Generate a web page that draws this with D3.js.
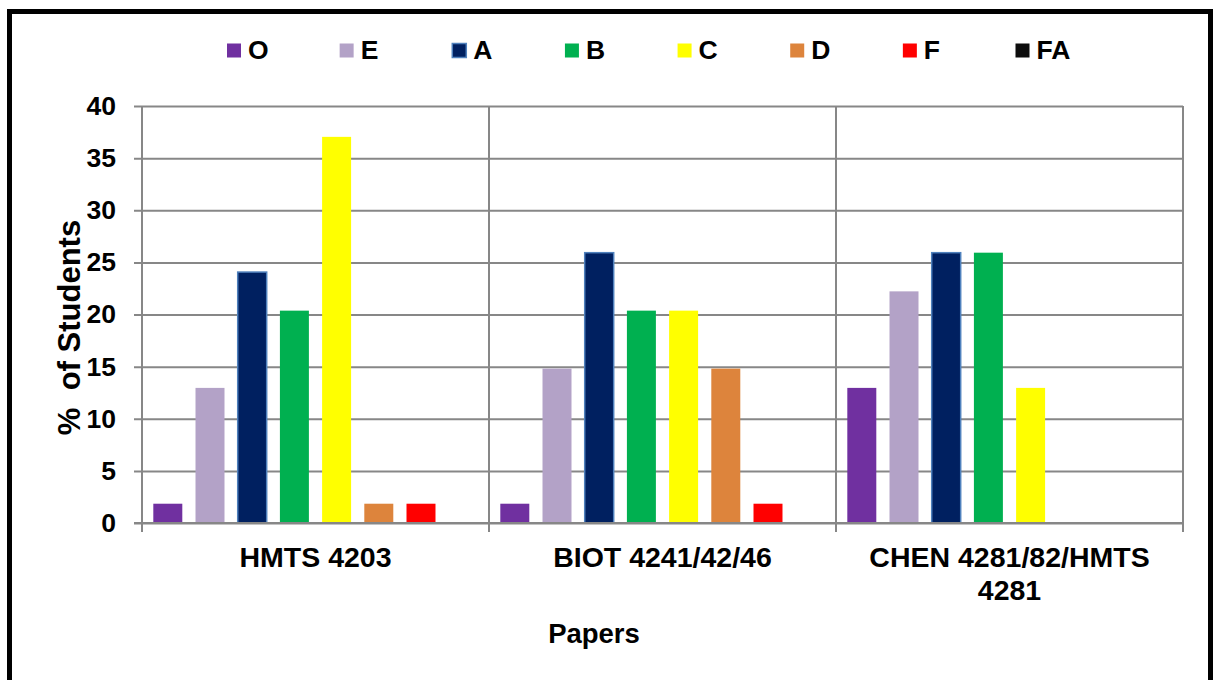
<!DOCTYPE html>
<html>
<head>
<meta charset="utf-8">
<script src="https://cdn.jsdelivr.net/npm/d3@7/dist/d3.min.js"></script>
<style>
  html, body { margin: 0; padding: 0; background: #fff; }
  svg { display: block; font-family: "Liberation Sans", Arial, sans-serif; }
</style>
</head>
<body>
<svg id="chart" width="1213" height="680"></svg>
<script>
// ---- data ----
const categories = ["HMTS 4203", "BIOT 4241/42/46", "CHEN 4281/82/HMTS 4281"];
const seriesNames = ["O", "E", "A", "B", "C", "D", "F", "FA"];
const valuesO  = [1.85, 1.85, 12.96];
const valuesE  = [12.96, 14.81, 22.22];
const valuesA  = [24.07, 25.93, 25.93];
const valuesB  = [20.37, 20.37, 25.93];
const valuesC  = [37.04, 20.37, 12.96];
const valuesD  = [1.85, 14.81, 0];
const valuesF  = [1.85, 1.85, 0];
const valuesFA = [0, 0, 0];
const yTicks = [0, 5, 10, 15, 20, 25, 30, 35, 40];
const colors = ["#7030a0", "#b3a2c7", "#002060", "#00b050", "#ffff00", "#dd843c", "#ff0000", "#0d0d0d"];
const yTitle = "%  of Students";
const xTitle = "Papers";

const seriesValues = [valuesO, valuesE, valuesA, valuesB, valuesC, valuesD, valuesF, valuesFA];

const svg = d3.select("#chart");

// outer border
svg.append("rect")
  .attr("x", 9.5).attr("y", 11.5)
  .attr("width", 1201).attr("height", 720)
  .attr("fill", "none").attr("stroke", "#000").attr("stroke-width", 5);

const plotL = 142, plotR = 1183, plotT = 106, plotB = 523;

const y = d3.scaleLinear().domain([0, 40]).range([plotB, plotT]);
const x0 = d3.scaleBand().domain(categories).range([plotL, plotR]).padding(0);
const x1 = d3.scaleBand().domain(seriesNames).range([0, x0.bandwidth()])
  .paddingInner(0.313).paddingOuter(0.268);

const gridColor = "#878787";

// horizontal gridlines + y labels
const yAxis = d3.axisLeft(y).tickValues(yTicks)
  .tickSize(-(plotR - 134)).tickPadding(18).tickFormat(d3.format("d"));
const gy = svg.append("g").attr("transform", "translate(134,0)").call(yAxis);
gy.select(".domain").remove();
gy.selectAll(".tick line").attr("stroke", gridColor).attr("stroke-width", 2);
gy.selectAll(".tick text")
  .attr("fill", "#000").attr("font-size", 26.5).attr("font-weight", "bold")
  .attr("font-family", "'Liberation Sans', Arial, sans-serif");

// vertical category separators
const seps = categories.map(c => x0(c)).concat([plotR]);
svg.append("g").selectAll("line").data(seps).join("line")
  .attr("x1", d => d).attr("x2", d => d)
  .attr("y1", plotT).attr("y2", plotB + 9)
  .attr("stroke", gridColor).attr("stroke-width", 2);

// bars
const barData = [];
categories.forEach((c, ci) => {
  seriesNames.forEach((s, si) => {
    const v = seriesValues[si][ci];
    if (v > 0) barData.push({ c, s, si, v });
  });
});
svg.append("g").selectAll("rect").data(barData).join("rect")
  .attr("x", d => x0(d.c) + x1(d.s))
  .attr("y", d => y(d.v))
  .attr("width", x1.bandwidth())
  .attr("height", d => y(0) - y(d.v))
  .attr("fill", d => colors[d.si])
  .attr("stroke", d => d.s === "A" ? "#4f81bd" : "none")
  .attr("stroke-width", 1.5);

// redraw baseline on top
svg.append("line")
  .attr("x1", 134).attr("x2", plotR).attr("y1", plotB).attr("y2", plotB)
  .attr("stroke", gridColor).attr("stroke-width", 2);

// category labels (wrapped)
function wrapLines(text, maxW, size) {
  const words = text.split(" ");
  const lines = [];
  let cur = "";
  const tmp = svg.append("text").attr("font-size", size).attr("font-weight", "bold");
  words.forEach(w => {
    const test = cur ? cur + " " + w : w;
    tmp.text(test);
    if (tmp.node().getComputedTextLength() > maxW && cur) {
      lines.push(cur); cur = w;
    } else cur = test;
  });
  if (cur) lines.push(cur);
  tmp.remove();
  return lines;
}
categories.forEach(c => {
  const lines = wrapLines(c, x0.bandwidth() - 20, 28.5);
  const t = svg.append("text")
    .attr("text-anchor", "middle")
    .attr("font-size", 28.5).attr("font-weight", "bold").attr("fill", "#000");
  lines.forEach((ln, i) => {
    t.append("tspan").attr("x", x0(c) + x0.bandwidth() / 2)
      .attr("y", 567 + i * 33).text(ln);
  });
});

// axis titles
svg.append("text")
  .attr("x", 594).attr("y", 643)
  .attr("text-anchor", "middle")
  .attr("font-size", 27.5).attr("font-weight", "bold").attr("fill", "#000")
  .text(xTitle);

// y title with its own white box (covers part of the tick labels, as in the original)
svg.append("rect")
  .attr("x", 50).attr("y", 208).attr("width", 37).attr("height", 238)
  .attr("fill", "#fff");
svg.append("text")
  .attr("transform", "translate(80,327.5) rotate(-90)")
  .attr("text-anchor", "middle")
  .attr("font-size", 31).attr("font-weight", "bold").attr("fill", "#000")
  .attr("xml:space", "preserve").style("white-space", "pre")
  .text(yTitle);

// legend
const legend = svg.append("g");
const legX = d3.scaleLinear().domain([0, seriesNames.length - 1]).range([227, 1015.5]);
seriesNames.forEach((s, i) => {
  const g = legend.append("g").attr("transform", `translate(${legX(i)},0)`);
  g.append("rect")
    .attr("x", 0).attr("y", 43.5).attr("width", 14).attr("height", 14)
    .attr("fill", colors[i])
    .attr("stroke", s === "A" ? "#4f81bd" : "none").attr("stroke-width", 1.5);
  g.append("text")
    .attr("x", 21).attr("y", 59)
    .attr("font-size", 26.5).attr("font-weight", "bold").attr("fill", "#000")
    .text(s);
});
</script>
</body>
</html>
